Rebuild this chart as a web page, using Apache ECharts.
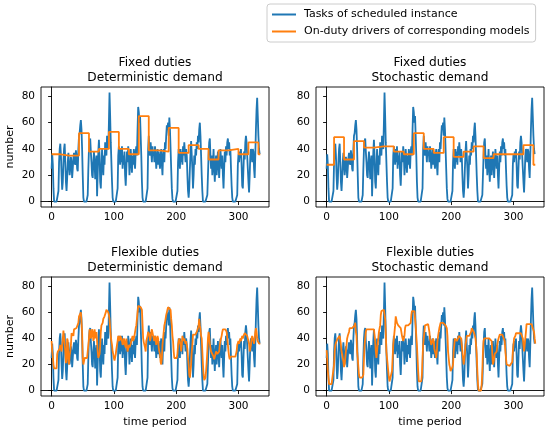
<!DOCTYPE html>
<html>
<head>
<meta charset="utf-8">
<script src="https://cdn.jsdelivr.net/npm/echarts@6.0.0/dist/echarts.min.js"></script>
<style>
  html, body { margin: 0; padding: 0; background: #fff; }
  #chart { width: 550px; height: 433px; }
</style>
</head>
<body>
<div id="chart"></div>
<script>
// tasks per time period (same instance in all four panels)
const blueTasks = [
  25, 36, 28, 10, 0, 0, 0, 0, 0, 0, 0, 8,
  30, 40, 44, 35, 20, 9, 15, 30, 40, 44, 30, 15,
  8, 18, 30, 37, 28, 20, 25, 34, 30, 18, 25, 33,
  37, 30, 28, 39, 35, 25, 23, 40, 50, 52, 58, 62,
  55, 40, 20, 3, 0, 0, 0, 0, 0, 0, 5, 25,
  40, 46, 48, 38, 30, 20, 18, 30, 38, 30, 17, 28,
  35, 4, 20, 38, 47, 35, 15, 10, 25, 40, 30, 20,
  35, 28, 45, 40, 35, 50, 42, 40, 60, 83, 65, 45,
  30, 15, 3, 0, 0, 0, 0, 0, 0, 0, 10, 35,
  42, 35, 28, 40, 30, 42, 25, 35, 28, 38, 20, 12,
  25, 38, 30, 42, 35, 20, 28, 40, 32, 22, 35, 28,
  40, 30, 25, 38, 42, 35, 55, 72, 68, 60, 65, 50,
  35, 15, 3, 0, 0, 0, 0, 0, 0, 0, 10, 40,
  50, 40, 35, 45, 38, 30, 42, 35, 38, 30, 42, 35,
  25, 32, 40, 28, 38, 30, 25, 35, 40, 28, 20, 35,
  40, 30, 45, 40, 50, 58, 55, 60, 50, 64, 55, 40,
  25, 10, 2, 0, 0, 0, 0, 0, 0, 0, 8, 30,
  40, 35, 25, 40, 30, 38, 28, 42, 35, 45, 38, 30,
  40, 35, 20, 8, 3, 10, 25, 38, 46, 35, 25, 10,
  20, 35, 28, 40, 35, 45, 40, 50, 45, 55, 60, 50,
  35, 20, 8, 0, 0, 0, 0, 0, 0, 0, 5, 20,
  35, 45, 48, 35, 25, 35, 20, 28, 40, 25, 15, 28,
  35, 20, 30, 38, 28, 18, 30, 40, 32, 25, 35, 20,
  10, 25, 38, 30, 42, 35, 45, 48, 40, 45, 35, 40,
  25, 12, 3, 0, 0, 0, 0, 0, 0, 0, 5, 28,
  36, 30, 38, 33, 40, 28, 12, 10, 25, 38, 32, 45,
  50, 45, 35, 25, 15, 7, 20, 35, 40, 38, 30, 40,
  38, 25, 18, 35, 55, 70, 79, 65, 50, 40, 36, 36
];

// fixed duties: driver count held constant over blocks starting at these periods
const stepStarts = [0, 12, 28, 44, 60, 76, 92, 108, 124, 140, 156, 172, 188, 204, 220, 236, 252, 268, 284, 300, 316, 332, 335];
const fixedDetDrivers = [36, 35, 35, 52, 38, 40, 53, 40, 36, 65, 39, 38, 56, 37, 43, 40, 32, 39, 40, 36, 45, 36, 36];
const fixedStoDrivers = [28, 49, 32, 46, 41, 42, 42, 38, 36, 52, 40, 37, 49, 34, 38, 42, 33, 36, 36, 36, 43, 28, 28];

// flexible duties: drivers per period
const flexDetDrivers = [
  38, 30, 26, 20, 17, 17, 17, 17, 17, 28, 30, 31,
  31, 32, 35, 33, 30, 35, 40, 46, 47, 47, 30, 21,
  25, 40, 38, 22, 20, 27, 30, 35, 44, 45, 44, 42,
  47, 48, 47, 46, 48, 47, 47, 52, 57, 58, 58, 60,
  60, 45, 25, 20, 20, 25, 25, 25, 25, 25, 25, 25,
  40, 47, 45, 40, 42, 47, 45, 38, 40, 47, 43, 40,
  45, 38, 30, 25, 25, 28, 35, 45, 50, 50, 52, 55,
  55, 57, 58, 60, 62, 63, 63, 60, 58, 55, 48, 42,
  38, 35, 30, 28, 25, 23, 23, 28, 32, 35, 38, 42,
  40, 38, 42, 43, 40, 38, 35, 37, 40, 40, 35, 33,
  40, 33, 30, 32, 35, 33, 32, 36, 38, 40, 42, 38,
  40, 42, 45, 48, 50, 55, 60, 65, 66, 66, 65, 64,
  63, 62, 62, 40, 37, 36, 33, 30, 38, 40, 42, 45,
  45, 43, 38, 40, 45, 47, 47, 42, 40, 38, 42, 40,
  35, 38, 42, 40, 33, 30, 28, 22, 20, 25, 35, 40,
  45, 50, 52, 55, 58, 60, 62, 64, 64, 63, 63, 62,
  55, 50, 42, 38, 30, 25, 25, 25, 25, 25, 28, 35,
  38, 40, 40, 35, 30, 35, 42, 40, 38, 40, 38, 36,
  38, 35, 32, 25, 20, 12, 10, 15, 20, 30, 35, 43,
  43, 43, 43, 43, 44, 45, 45, 48, 50, 55, 50, 47,
  42, 40, 30, 20, 12, 8, 8, 10, 15, 22, 30, 40,
  45, 42, 36, 33, 30, 30, 28, 28, 26, 24, 24, 28,
  30, 30, 28, 28, 28, 30, 35, 38, 40, 42, 45, 47,
  47, 47, 46, 47, 47, 45, 40, 35, 30, 26, 24, 26,
  26, 26, 26, 26, 26, 26, 26, 26, 26, 30, 35, 36,
  38, 36, 38, 40, 38, 40, 42, 40, 42, 43, 44, 45,
  45, 44, 42, 40, 38, 36, 30, 32, 35, 40, 42, 40,
  38, 36, 40, 45, 48, 45, 40, 38, 38, 36, 36, 36
];

const flexStoDrivers = [
  31, 25, 15, 10, 5, 5, 5, 5, 5, 5, 5, 5,
  20, 30, 35, 36, 38, 38, 40, 40, 40, 42, 42, 35,
  30, 28, 28, 22, 18, 20, 25, 30, 35, 40, 42, 42,
  45, 48, 48, 48, 48, 48, 48, 48, 48, 50, 52, 45,
  42, 30, 25, 18, 12, 10, 10, 10, 10, 10, 10, 12,
  25, 35, 40, 45, 47, 47, 47, 47, 47, 47, 47, 47,
  47, 47, 47, 47, 47, 47, 38, 30, 25, 25, 35, 40,
  45, 45, 50, 58, 61, 61, 62, 62, 62, 62, 55, 45,
  30, 25, 20, 15, 10, 7, 7, 7, 7, 15, 25, 35,
  40, 45, 50, 57, 57, 52, 52, 50, 50, 50, 50, 48,
  45, 42, 40, 38, 38, 42, 48, 50, 50, 50, 50, 50,
  50, 50, 50, 52, 58, 61, 61, 61, 61, 61, 61, 50,
  42, 35, 25, 15, 7, 7, 7, 7, 7, 12, 25, 35,
  40, 45, 50, 51, 51, 51, 51, 51, 51, 45, 40, 38,
  35, 35, 38, 40, 38, 32, 30, 28, 25, 30, 38, 42,
  45, 48, 50, 52, 52, 52, 52, 52, 52, 52, 52, 50,
  50, 48, 42, 30, 25, 20, 18, 15, 15, 15, 18, 20,
  30, 35, 40, 40, 40, 38, 38, 40, 42, 42, 42, 42,
  40, 35, 30, 25, 20, 20, 28, 35, 38, 42, 42, 42,
  42, 42, 42, 42, 45, 48, 48, 46, 45, 44, 42, 40,
  35, 28, 15, 5, 0, 0, 0, 0, 0, 5, 15, 30,
  38, 40, 40, 40, 40, 40, 40, 40, 40, 40, 40, 40,
  40, 38, 28, 20, 22, 25, 28, 28, 28, 30, 35, 38,
  40, 40, 43, 43, 43, 43, 43, 43, 43, 43, 38, 30,
  25, 20, 19, 19, 19, 19, 19, 19, 19, 19, 22, 30,
  35, 40, 40, 42, 44, 44, 44, 44, 44, 44, 44, 44,
  44, 44, 44, 40, 35, 30, 35, 40, 45, 51, 51, 51,
  51, 51, 51, 51, 51, 51, 51, 51, 51, 45, 40, 36
];

const xTicks = [0, 100, 200, 300];
const yTicks = [0, 20, 40, 60, 80];
const panelTitles = [
  "Fixed duties\nDeterministic demand",
  "Fixed duties\nStochastic demand",
  "Flexible duties\nDeterministic demand",
  "Flexible duties\nStochastic demand",
];
const seriesNames = ["Tasks of scheduled instance", "On-duty drivers of corresponding models"];

const font = "DejaVu Sans";
const blue = "#1f77b4";
const orange = "#ff7f0e";
// plain line sample for the legend (no marker)
const lineIcon = "path://M0,0L24,0L24,2L0,2Z";

// panel boxes [left, top, width, height]
const panels = [
  [41, 87, 228, 120],
  [316, 87, 228, 120],
  [41, 277, 228, 119],
  [316, 277, 228, 119],
];

const chart = echarts.init(document.getElementById("chart"));

const grids = panels.map(([l, t, w, h]) => ({
  left: l, top: t, width: w, height: h,
  show: true, borderColor: "#000", borderWidth: 0.9,
}));

const titles = panels.map(([l, t, w], i) => ({
  text: panelTitles[i],
  left: l + w / 2,
  top: t - 31,
  textAlign: "center",
  padding: 0,
  textStyle: { fontFamily: font, fontSize: 12.2, fontWeight: "normal", color: "#000", lineHeight: 14.5 },
}));

const xAxes = panels.map((p, i) => ({
  type: "value", gridIndex: i, min: -17, max: 349,
  axisLine: { show: true, lineStyle: { color: "#000", width: 0.9 } },
  axisTick: { show: true, length: 3.5, lineStyle: { color: "#000", width: 0.9 }, customValues: xTicks },
  axisLabel: { color: "#000", fontFamily: font, fontSize: 10.5, margin: 5, customValues: xTicks },
  splitLine: { show: false },
  name: i >= 2 ? "time period" : "",
  nameLocation: "middle", nameGap: 21,
  nameTextStyle: { color: "#000", fontFamily: font, fontSize: 11 },
}));

const yAxes = panels.map((p, i) => ({
  type: "value", gridIndex: i, min: -4.15, max: 87.15,
  axisLine: { show: true, lineStyle: { color: "#000", width: 0.9 } },
  axisTick: { show: true, length: 3.5, lineStyle: { color: "#000", width: 0.9 }, customValues: yTicks },
  axisLabel: { color: "#000", fontFamily: font, fontSize: 10.5, margin: 6, customValues: yTicks },
  splitLine: { show: false },
  name: i % 2 === 0 ? "number" : "",
  nameLocation: "middle", nameGap: 25,
  nameTextStyle: { color: "#000", fontFamily: font, fontSize: 11 },
}));

const taskPoints = blueTasks.map((v, i) => [i, v]);
const stepPoints = (vals) => stepStarts.map((x, i) => [x, vals[i]]);
const flexPoints = (vals) => vals.map((v, i) => [i, v]);

const driverData = [
  stepPoints(fixedDetDrivers),
  stepPoints(fixedStoDrivers),
  flexPoints(flexDetDrivers),
  flexPoints(flexStoDrivers),
];

const series = [];
panels.forEach((p, i) => {
  series.push({
    name: seriesNames[0], type: "line", xAxisIndex: i, yAxisIndex: i,
    data: taskPoints, symbol: "none", lineStyle: { color: blue, width: 1.8 },
    itemStyle: { color: blue }, z: 2,
  });
  series.push({
    name: seriesNames[1], type: "line", xAxisIndex: i, yAxisIndex: i,
    data: driverData[i], symbol: "none", step: i < 2 ? "end" : false,
    lineStyle: { color: orange, width: 1.8 }, itemStyle: { color: orange }, z: 3,
  });
});

const option = {
  animation: false,
  backgroundColor: "#fff",
  title: titles,
  legend: {
    data: seriesNames.map((name) => ({ name: name, icon: lineIcon })),
    orient: "vertical",
    left: 267, top: 4,
    itemWidth: 24, itemHeight: 11, itemGap: 6,
    symbolKeepAspect: true,
    padding: [5, 6, 5, 5],
    borderColor: "#cccccc", borderWidth: 1, borderRadius: 3,
    textStyle: { fontFamily: font, fontSize: 11, color: "#000", padding: [0, 0, 0, 3] },
  },
  grid: grids,
  xAxis: xAxes,
  yAxis: yAxes,
  series: series,
};

chart.setOption(option);
</script>
</body>
</html>
